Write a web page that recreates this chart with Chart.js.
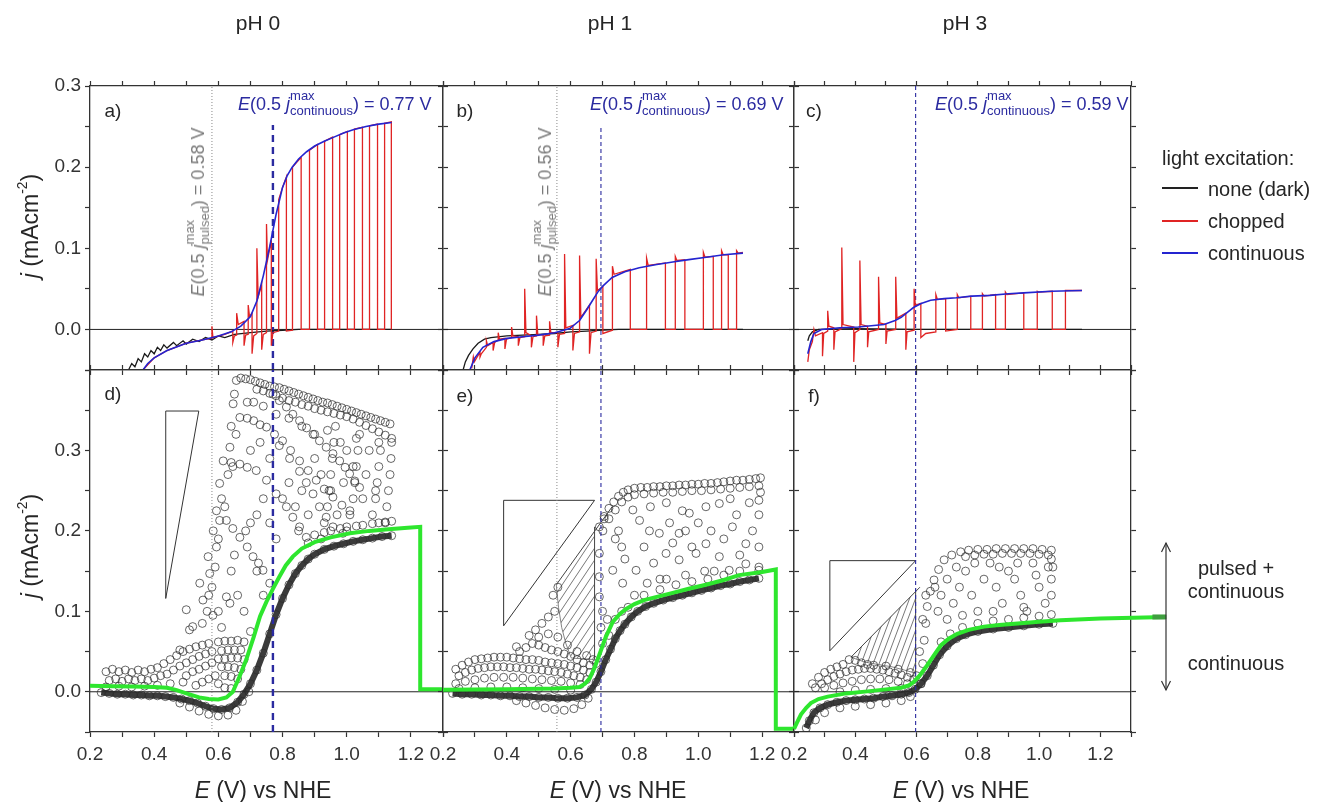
<!DOCTYPE html>
<html><head><meta charset="utf-8">
<script src="https://cdn.jsdelivr.net/npm/chart.js@4.4.1/dist/chart.umd.min.js"></script>
<style>
body{margin:0;background:#fff;font-family:"Liberation Sans",Arial,sans-serif;color:#262626}
#wrap{position:relative;width:1337px;height:802px;overflow:hidden;background:#fff}
canvas{position:absolute;left:0;top:0}
.t{position:absolute;white-space:nowrap;line-height:1}
.c{transform:translate(-50%,-50%)}
.rot{transform:translate(-50%,-50%) rotate(-90deg)}
.ss{display:inline-block;font-size:13px;line-height:15px;vertical-align:-5px;text-align:left}
.ss span{display:block}
.sup2{font-size:0.6em;vertical-align:0.75em}
.lg{position:absolute;height:2px;width:36px;left:1162px}
</style></head><body><div id="wrap">
<canvas id="ca" width="1337" height="802"></canvas>
<canvas id="cb" width="1337" height="802"></canvas>
<canvas id="cc" width="1337" height="802"></canvas>
<canvas id="cd" width="1337" height="802"></canvas>
<canvas id="ce" width="1337" height="802"></canvas>
<canvas id="cf" width="1337" height="802"></canvas>

<div class="t c" style="left:258px;top:22px;font-size:21px">pH 0</div>
<div class="t c" style="left:610px;top:22px;font-size:21px">pH 1</div>
<div class="t c" style="left:965px;top:22px;font-size:21px">pH 3</div>

<div class="t rot" style="left:29px;top:226px;font-size:23px"><i>j</i> (mAcm<span class="sup2">-2</span>)</div>
<div class="t rot" style="left:29px;top:546px;font-size:23px"><i>j</i> (mAcm<span class="sup2">-2</span>)</div>

<div class="t c" style="left:263px;top:790px;font-size:23px"><i>E</i> (V) vs NHE</div>
<div class="t c" style="left:618px;top:790px;font-size:23px"><i>E</i> (V) vs NHE</div>
<div class="t c" style="left:961px;top:790px;font-size:23px"><i>E</i> (V) vs NHE</div>

<div class="t c" style="left:113px;top:110px;font-size:19px">a)</div>
<div class="t c" style="left:465px;top:110px;font-size:19px">b)</div>
<div class="t c" style="left:814px;top:110px;font-size:19px">c)</div>
<div class="t c" style="left:113px;top:393px;font-size:19px">d)</div>
<div class="t c" style="left:465px;top:395px;font-size:19px">e)</div>
<div class="t c" style="left:814px;top:395px;font-size:19px">f)</div>

<div class="t" style="left:238px;top:88px;font-size:18px;color:#2b2ba0"><i>E</i>(0.5 <i>j</i><span class="ss"><span>max</span><span>continuous</span></span>) = 0.77 V</div>
<div class="t" style="left:590px;top:88px;font-size:18px;color:#2b2ba0"><i>E</i>(0.5 <i>j</i><span class="ss"><span>max</span><span>continuous</span></span>) = 0.69 V</div>
<div class="t" style="left:935px;top:88px;font-size:18px;color:#2b2ba0"><i>E</i>(0.5 <i>j</i><span class="ss"><span>max</span><span>continuous</span></span>) = 0.59 V</div>

<div class="t rot" style="left:197px;top:212px;font-size:18px;color:#7a7a7a"><i>E</i>(0.5 <i>j</i><span class="ss"><span>max</span><span>pulsed</span></span>) = 0.58 V</div>
<div class="t rot" style="left:544px;top:212px;font-size:18px;color:#7a7a7a"><i>E</i>(0.5 <i>j</i><span class="ss"><span>max</span><span>pulsed</span></span>) = 0.56 V</div>

<div class="t" style="left:1162px;top:148px;font-size:20px">light excitation:</div>
<div class="lg" style="top:187px;background:#222"></div>
<div class="lg" style="top:220px;background:#e02424"></div>
<div class="lg" style="top:252px;background:#2424d0"></div>
<div class="t" style="left:1208px;top:179px;font-size:20px">none (dark)</div>
<div class="t" style="left:1208px;top:211px;font-size:20px">chopped</div>
<div class="t" style="left:1208px;top:243px;font-size:20px">continuous</div>

<svg style="position:absolute;left:1150px;top:535px" width="32" height="165">
<line x1="16" y1="8" x2="16" y2="155" stroke="#333" stroke-width="1.2"/>
<polyline points="11.5,17 16,8 20.5,17" fill="none" stroke="#333" stroke-width="1.2"/>
<polyline points="11.5,146 16,155 20.5,146" fill="none" stroke="#333" stroke-width="1.2"/>
</svg>
<div class="t c" style="left:1236px;top:568px;font-size:20px">pulsed +</div>
<div class="t c" style="left:1236px;top:591px;font-size:20px">continuous</div>
<div class="t c" style="left:1236px;top:663px;font-size:20px">continuous</div>
</div>
<script>
// ---------------- data (E in V vs NHE, j in mA cm^-2) ----------------
const X_MIN = 0.2, X_MAX = 1.3;
const TOP_Y = [-0.05, 0.3], BOT_Y = [-0.05, 0.4];

// pH 0 (panel a)
const dark_pH0 = [[0.32,-0.05],[0.33,-0.042],[0.34,-0.046],[0.35,-0.036],[0.36,-0.04],[0.37,-0.03],[0.38,-0.034],[0.39,-0.026],[0.40,-0.03],[0.41,-0.022],[0.42,-0.026],[0.43,-0.019],[0.44,-0.023],[0.46,-0.016],[0.47,-0.02],[0.49,-0.014],[0.50,-0.018],[0.52,-0.012],[0.54,-0.015],[0.56,-0.01],[0.58,-0.013],[0.60,-0.008],[0.62,-0.01],[0.65,-0.006],[0.70,-0.004],[0.75,-0.002],[0.80,-0.001],[0.85,0],[1.14,0]];
const cont_pH0 = [[0.365,-0.05],[0.38,-0.042],[0.40,-0.035],[0.44,-0.026],[0.50,-0.017],[0.55,-0.013],[0.60,-0.008],[0.64,-0.003],[0.67,0.004],[0.70,0.016],[0.72,0.035],[0.74,0.066],[0.76,0.102],[0.78,0.142],[0.80,0.175],[0.815,0.19],[0.83,0.2],[0.85,0.21],[0.875,0.219],[0.90,0.226],[0.93,0.232],[0.96,0.237],[0.99,0.242],[1.02,0.246],[1.06,0.25],[1.10,0.253],[1.14,0.255]];
const chop_pH0 = [[0.365,-0.05],[0.40,-0.035],[0.44,-0.026],[0.50,-0.017],[0.55,-0.013],[0.578,-0.011],[0.58,0.004],[0.583,-0.01],[0.62,-0.006],[0.645,-0.002],
 [0.645,-0.016],[0.65,-0.008],[0.657,-0.007],[0.657,0.02],[0.662,0.006],[0.68,0.01],
 [0.68,-0.02],[0.685,-0.007],[0.693,-0.006],[0.693,0.03],[0.697,0.016],[0.705,0.02],
 [0.705,-0.03],[0.71,-0.008],[0.72,-0.005],[0.72,0.1],[0.724,0.04],[0.735,0.055],
 [0.735,-0.025],[0.74,-0.006],[0.75,-0.004],[0.75,0.13],[0.753,0.085],[0.765,0.11],
 [0.765,-0.02],[0.77,-0.004],[0.788,-0.002],[0.788,0.16],[0.80,0.175],[0.812,0.188],
 [0.812,-0.002],[0.831,-0.001],[0.831,0.2],[0.858,0.212],
 [0.858,0],[0.884,0],[0.884,0.221],[0.909,0.228],
 [0.909,0],[0.931,0],[0.931,0.232],[0.956,0.237],
 [0.956,0],[0.978,0],[0.978,0.24],[1.002,0.244],
 [1.002,0],[1.024,0],[1.024,0.247],[1.049,0.249],
 [1.049,0],[1.071,0],[1.071,0.251],[1.096,0.253],
 [1.096,0],[1.118,0],[1.118,0.254],[1.139,0.256],[1.139,0]];

// pH 1 (panel b)
const dark_pH1 = [[0.263,-0.05],[0.27,-0.04],[0.28,-0.032],[0.294,-0.024],[0.31,-0.017],[0.33,-0.012],[0.35,-0.01],[0.40,-0.008],[0.45,-0.007],[0.50,-0.006],[0.55,-0.005],[0.60,-0.003],[0.65,-0.002],[0.69,-0.001],[0.75,0],[1.14,0]];
const cont_pH1 = [[0.284,-0.05],[0.30,-0.035],[0.325,-0.022],[0.36,-0.015],[0.40,-0.011],[0.45,-0.009],[0.50,-0.007],[0.55,-0.004],[0.597,0.001],[0.628,0.011],[0.65,0.024],[0.669,0.036],[0.685,0.046],[0.70,0.053],[0.73,0.064],[0.77,0.071],[0.815,0.076],[0.87,0.08],[0.92,0.083],[0.97,0.086],[1.025,0.089],[1.08,0.092],[1.14,0.094]];
const chop_pH1 = [[0.29,-0.048],[0.295,-0.034],[0.298,-0.04],[0.316,-0.028],[0.316,-0.034],[0.32,-0.03],[0.336,-0.022],[0.336,-0.014],[0.34,-0.02],[0.357,-0.016],
 [0.357,-0.026],[0.362,-0.016],[0.373,-0.013],[0.373,-0.004],[0.377,-0.012],[0.394,-0.011],[0.394,-0.024],[0.399,-0.012],[0.415,-0.01],[0.415,0.003],[0.419,-0.008],[0.436,-0.009],
 [0.436,-0.02],[0.441,-0.01],[0.456,-0.009],[0.456,0.05],[0.46,-0.004],[0.477,-0.008],[0.477,-0.022],[0.482,-0.009],[0.493,-0.008],[0.493,0.017],[0.497,-0.006],[0.514,-0.007],
 [0.514,-0.02],[0.519,-0.008],[0.534,-0.007],[0.534,0.01],[0.538,-0.004],[0.56,-0.004],[0.56,-0.022],[0.565,-0.006],[0.581,-0.005],[0.581,0.093],[0.585,0.002],[0.607,0.005],
 [0.607,-0.026],[0.612,-0.005],[0.628,-0.003],[0.628,0.091],[0.632,0.015],[0.659,0.03],[0.659,-0.03],[0.664,-0.004],[0.68,-0.002],[0.68,0.087],[0.684,0.048],[0.701,0.053],
 [0.701,-0.005],[0.731,-0.001],[0.731,0.078],[0.736,0.068],[0.787,0.074],
 [0.787,0],[0.838,0],[0.838,0.088],[0.843,0.079],[0.897,0.082],
 [0.897,0],[0.928,0],[0.928,0.09],[0.933,0.085],[0.958,0.086],
 [0.958,0],[1.016,0],[1.016,0.095],[1.021,0.089],[1.047,0.09],
 [1.047,0],[1.073,0],[1.073,0.097],[1.078,0.092],[1.094,0.092],
 [1.094,0],[1.12,0],[1.12,0.097],[1.125,0.094],[1.14,0.095]];

// pH 3 (panel c)
const dark_pH3 = [[0.245,-0.014],[0.25,-0.008],[0.26,-0.003],[0.28,0],[0.40,0.001],[0.60,0],[1.14,0]];
const cont_pH3 = [[0.245,-0.03],[0.255,-0.015],[0.265,-0.005],[0.29,0],[0.35,0.002],[0.41,0.003],[0.494,0.006],[0.53,0.011],[0.55,0.015],[0.57,0.021],[0.59,0.027],[0.615,0.032],[0.646,0.036],[0.69,0.038],[0.73,0.039],[0.78,0.041],[0.84,0.042],[0.90,0.044],[0.95,0.045],[1.04,0.047],[1.14,0.048]];
const chop_pH3 = [[0.245,-0.04],[0.25,-0.025],[0.26,-0.015],[0.265,0],[0.27,-0.008],[0.293,-0.004],[0.293,-0.033],[0.297,-0.005],[0.31,-0.002],[0.31,0.023],[0.314,0.004],[0.33,0.002],
 [0.33,-0.025],[0.334,-0.003],[0.356,0.001],[0.356,0.101],[0.36,0.006],[0.395,0.003],[0.395,-0.04],[0.399,-0.004],[0.415,0],[0.415,0.085],[0.419,0.006],[0.44,0.004],
 [0.44,-0.022],[0.444,-0.003],[0.476,0],[0.476,0.065],[0.48,0.008],[0.50,0.006],[0.50,-0.018],[0.504,-0.002],[0.532,0],[0.532,0.065],[0.536,0.014],[0.565,0.02],
 [0.565,-0.025],[0.569,-0.003],[0.592,-0.001],[0.592,0.05],[0.596,0.03],[0.614,0.032],
 [0.614,-0.01],[0.63,-0.005],[0.663,-0.003],[0.663,0.043],[0.668,0.037],[0.695,0.038],
 [0.695,-0.002],[0.733,0],[0.733,0.043],[0.738,0.039],[0.777,0.041],
 [0.777,0],[0.815,0],[0.815,0.044],[0.82,0.041],[0.858,0.043],
 [0.858,0],[0.89,0],[0.89,0.046],[0.895,0.043],[0.95,0.045],
 [0.95,0],[0.994,0],[0.994,0.047],[0.999,0.046],[1.043,0.047],
 [1.043,0],[1.086,0],[1.086,0.048],[1.14,0.048]];

// half-current potentials (vertical guide lines)
const E_pulsed = {pH0:0.58, pH1:0.557};
const E_cont = {pH0:0.77, pH1:0.695, pH3:0.597};
const jTopCont = {pH0:0.252, pH1:0.25, pH3:0.3};

// transient (pulsed) data, panels d-f
const band_pH0 = [[0.235,-0.001],[0.26,-0.002],[0.285,-0.003],[0.31,-0.003],[0.335,-0.004],[0.36,-0.004],[0.385,-0.005],[0.41,-0.005],[0.435,-0.006],[0.46,-0.007],[0.485,-0.009],[0.51,-0.011],[0.535,-0.014],[0.56,-0.018],[0.585,-0.021],[0.61,-0.022],[0.635,-0.02],[0.66,-0.013],[0.68,-0.003],[0.70,0.01],[0.72,0.027],[0.74,0.048],[0.76,0.072],[0.78,0.096],[0.80,0.116],[0.82,0.133],[0.84,0.147],[0.86,0.157],[0.88,0.165],[0.90,0.171],[0.93,0.177],[0.96,0.181],[0.99,0.184],[1.02,0.187],[1.05,0.189],[1.08,0.191],[1.11,0.193],[1.14,0.194]];
const band2_pH0 = [[0.48,-0.014],[0.51,-0.019],[0.54,-0.024],[0.57,-0.028],[0.60,-0.03],[0.63,-0.029],[0.655,-0.023],[0.675,-0.012],[0.695,0]];
const cloud_pH0 = [
 [0.25,0.025],[0.27,0.028],[0.29,0.025],[0.31,0.027],[0.33,0.024],[0.35,0.027],[0.37,0.025],[0.39,0.028],[0.41,0.03],
 [0.26,0.014],[0.28,0.016],[0.30,0.013],[0.32,0.016],[0.34,0.014],[0.36,0.016],[0.38,0.014],[0.40,0.017],[0.42,0.02],[0.44,0.022],
 [0.25,0.006],[0.29,0.007],[0.33,0.006],[0.37,0.007],[0.41,0.008],[0.45,0.01],[0.49,0.012],
 [0.43,0.035],[0.45,0.04],[0.47,0.045],[0.49,0.05],[0.51,0.053],[0.53,0.056],[0.55,0.058],[0.57,0.06],
 [0.46,0.027],[0.48,0.032],[0.50,0.036],[0.52,0.04],[0.54,0.044],[0.56,0.047],[0.58,0.05],
 [0.50,0.02],[0.52,0.025],[0.54,0.028],[0.56,0.032],[0.58,0.036],[0.53,0.008],[0.55,0.012],[0.57,0.016],[0.59,0.02],
 [0.60,0.062],[0.62,0.063],[0.64,0.063],[0.66,0.064],[0.68,0.062],[0.61,0.051],[0.63,0.052],[0.65,0.052],[0.67,0.052],
 [0.60,0.041],[0.62,0.041],[0.64,0.042],[0.66,0.042],[0.68,0.04],[0.61,0.031],[0.63,0.031],[0.65,0.03],[0.67,0.028],
 [0.60,0.01],[0.62,0.02],[0.64,0.019],[0.66,0.016],[0.62,0.005],[0.64,0.004],
 [0.48,0.052],[0.51,0.077],[0.50,0.102],[0.542,0.135],[0.568,0.168],[0.584,0.2],[0.594,0.225],[0.604,0.259],[0.636,0.304],[0.646,0.358],[0.656,0.387],
 [0.52,0.081],[0.552,0.114],[0.573,0.147],[0.594,0.18],[0.604,0.213],[0.61,0.24],[0.583,0.095],[0.625,0.118],[0.636,0.11],[0.58,0.13],[0.59,0.155],
 [0.55,0.085],[0.565,0.1],[0.57,0.12],[0.60,0.19],[0.62,0.23],[0.63,0.27],[0.64,0.33],[0.65,0.37],[0.60,0.1],[0.61,0.08],[0.645,0.28],[0.655,0.32],
 [0.67,0.39],[0.685,0.389],[0.70,0.388],[0.715,0.386],[0.73,0.384],[0.745,0.382],[0.76,0.38],[0.775,0.379],[0.79,0.378],[0.805,0.376],[0.82,0.374],[0.835,0.372],[0.85,0.37],[0.865,0.368],[0.88,0.366],[0.895,0.364],[0.91,0.362],[0.925,0.36],[0.94,0.359],[0.955,0.357],[0.97,0.355],[0.985,0.353],[1.0,0.351],[1.015,0.349],[1.03,0.347],[1.045,0.345],[1.06,0.343],[1.075,0.341],[1.09,0.339],[1.105,0.337],[1.12,0.335],[1.135,0.333],
 [0.72,0.376],[0.74,0.374],[0.76,0.371],[0.78,0.368],[0.80,0.365],[0.82,0.362],[0.84,0.36],[0.86,0.357],[0.88,0.355],[0.90,0.352],[0.92,0.35],[0.94,0.348],[0.96,0.346],[0.98,0.344],[1.0,0.342],[1.02,0.339],[1.04,0.335],[1.06,0.331],[1.08,0.327],[1.10,0.323],[1.12,0.319],[1.14,0.315],
 [0.667,0.341],[0.69,0.34],[0.71,0.337],[0.73,0.332],[0.75,0.329],[0.775,0.32],[0.80,0.312],[0.825,0.3],[0.853,0.287],[0.88,0.275],[0.905,0.263],[0.93,0.252],[0.957,0.242],[0.985,0.232],[1.01,0.225],
 [0.77,0.37],[0.79,0.362],[0.812,0.354],[0.832,0.345],[0.853,0.337],[0.875,0.328],[0.895,0.32],[0.915,0.312],[0.936,0.304],[0.957,0.296],[0.978,0.287],[0.995,0.279],[1.009,0.271],[1.025,0.262],[1.04,0.254],
 [0.79,0.306],[0.822,0.29],[0.853,0.274],[0.874,0.26],[0.895,0.246],[0.915,0.23],[0.936,0.217],[0.957,0.205],[0.988,0.197],
 [0.615,0.287],[0.64,0.285],[0.667,0.283],[0.69,0.279],[0.718,0.275],[0.75,0.263],[0.78,0.246],[0.812,0.23],[0.832,0.217],[0.853,0.205],[0.874,0.192],
 [0.625,0.213],[0.645,0.203],[0.667,0.192],[0.69,0.18],[0.708,0.168],[0.725,0.16],[0.739,0.151],[0.76,0.135],
 [0.72,0.22],[0.74,0.24],[0.76,0.21],[0.78,0.19],[0.80,0.24],[0.82,0.26],[0.84,0.23],[0.86,0.25],[0.88,0.22],[0.90,0.29],[0.92,0.27],[0.95,0.25],[0.97,0.22],[0.99,0.26],[1.0,0.3],[1.02,0.28],[1.05,0.24],[1.06,0.27],[1.07,0.3],[1.09,0.25],[0.70,0.3],[0.73,0.31],[0.76,0.29],[0.69,0.36],[0.71,0.36],[0.74,0.355],[0.78,0.345],[0.82,0.34],[0.86,0.33],[0.90,0.32],[0.94,0.325],[0.98,0.31],[1.03,0.315],[1.10,0.31],[0.85,0.2],[0.88,0.185],
 [1.12,0.21],[1.125,0.23],[1.13,0.25],[1.135,0.27],[1.138,0.29],[1.14,0.31],[1.08,0.22],[1.09,0.24],[1.095,0.26],[1.10,0.28],[1.105,0.3],[1.0,0.2],[1.01,0.22],[1.02,0.24],[1.025,0.26],[1.03,0.28],[1.035,0.3],[1.04,0.32],[0.92,0.19],[0.93,0.21],[0.94,0.23],[0.945,0.25],[0.95,0.27],[0.955,0.29],[0.96,0.31],[0.965,0.33],
 [0.90,0.195],[0.95,0.2],[1.0,0.205],[1.05,0.207],[1.10,0.21],[1.14,0.212],[0.93,0.198],[0.98,0.203],[1.03,0.206],[1.08,0.209],[1.12,0.211],
 [0.66,0.12],[0.68,0.1],[0.70,0.075],[0.64,0.15],[0.65,0.17],[0.685,0.2],[0.70,0.21],[0.72,0.15],[0.74,0.12]];

const band_pH1 = [[0.23,-0.002],[0.26,-0.003],[0.29,-0.003],[0.32,-0.004],[0.35,-0.004],[0.38,-0.005],[0.41,-0.005],[0.44,-0.006],[0.47,-0.006],[0.50,-0.007],[0.53,-0.007],[0.56,-0.008],[0.59,-0.008],[0.62,-0.007],[0.645,-0.004],[0.665,0.003],[0.68,0.012],[0.695,0.025],[0.71,0.04],[0.725,0.053],[0.74,0.066],[0.755,0.076],[0.77,0.084],[0.79,0.093],[0.81,0.1],[0.835,0.106],[0.86,0.11],[0.89,0.114],[0.92,0.117],[0.95,0.12],[0.98,0.123],[1.01,0.126],[1.04,0.129],[1.07,0.132],[1.10,0.134],[1.13,0.137],[1.16,0.139],[1.19,0.141]];
const band2_pH1 = [[0.43,-0.011],[0.46,-0.014],[0.49,-0.017],[0.52,-0.02],[0.55,-0.022],[0.58,-0.023],[0.61,-0.021],[0.635,-0.016],[0.655,-0.008]];
const cloud_pH1 = [
 [0.24,0.028],[0.26,0.033],[0.28,0.037],[0.30,0.04],[0.32,0.041],[0.34,0.042],[0.36,0.043],[0.38,0.043],[0.40,0.043],[0.42,0.042],[0.44,0.041],[0.46,0.04],[0.48,0.04],[0.50,0.039],[0.52,0.037],[0.54,0.036],[0.56,0.035],[0.58,0.034],[0.60,0.032],[0.62,0.03],[0.64,0.027],[0.66,0.024],
 [0.25,0.02],[0.27,0.024],[0.29,0.027],[0.31,0.029],[0.33,0.03],[0.35,0.031],[0.37,0.031],[0.39,0.031],[0.41,0.03],[0.43,0.03],[0.45,0.029],[0.47,0.028],[0.49,0.028],[0.51,0.027],[0.53,0.026],[0.55,0.025],[0.57,0.024],[0.59,0.022],[0.61,0.02],[0.63,0.018],[0.65,0.015],
 [0.24,0.01],[0.27,0.013],[0.30,0.015],[0.33,0.017],[0.36,0.018],[0.39,0.018],[0.42,0.018],[0.45,0.017],[0.48,0.016],[0.51,0.015],[0.54,0.014],[0.57,0.013],[0.60,0.011],[0.63,0.009],
 [0.25,0.004],[0.30,0.005],[0.35,0.006],[0.40,0.006],[0.45,0.005],[0.50,0.004],[0.55,0.003],[0.60,0.002],
 [0.44,0.05],[0.46,0.055],[0.48,0.06],[0.50,0.058],[0.52,0.055],[0.54,0.052],[0.56,0.05],[0.58,0.047],[0.60,0.044],[0.62,0.04],[0.64,0.036],[0.66,0.033],[0.47,0.07],[0.49,0.077],[0.51,0.085],[0.53,0.093],[0.55,0.1],[0.545,0.12],[0.56,0.13],[0.43,0.056],[0.50,0.068],[0.53,0.072],[0.56,0.068],[0.59,0.058],[0.62,0.05],[0.65,0.045],[0.67,0.04],[0.68,0.035],
 [0.69,0.118],[0.69,0.143],[0.69,0.172],[0.701,0.2],[0.705,0.215],[0.69,0.205],[0.70,0.1],[0.695,0.08],[0.70,0.06],[0.72,0.07],[0.715,0.09],
 [0.705,0.218],[0.72,0.228],[0.735,0.236],[0.75,0.243],[0.765,0.248],[0.78,0.251],[0.80,0.253],[0.82,0.254],[0.84,0.254],[0.86,0.255],[0.88,0.255],[0.90,0.256],[0.92,0.256],[0.94,0.257],[0.96,0.257],[0.98,0.258],[1.0,0.258],[1.02,0.259],[1.04,0.259],[1.06,0.26],[1.08,0.261],[1.10,0.262],[1.12,0.263],[1.14,0.263],[1.16,0.264],[1.18,0.265],[1.195,0.266],
 [0.72,0.215],[0.74,0.226],[0.76,0.236],[0.78,0.242],[0.80,0.245],[0.83,0.246],[0.86,0.247],[0.89,0.248],[0.92,0.248],[0.95,0.249],[0.98,0.25],[1.01,0.25],[1.04,0.251],[1.07,0.252],[1.10,0.253],[1.13,0.254],[1.16,0.255],[1.19,0.256],[1.195,0.248],[1.19,0.238],
 [0.795,0.226],[0.816,0.213],[0.847,0.2],[0.878,0.197],[0.94,0.197],[0.972,0.222],[1.024,0.23],[1.066,0.234],[1.107,0.205],[1.149,0.184],[1.19,0.18],[0.732,0.151],[0.763,0.135],[0.805,0.151],[0.899,0.172],[0.94,0.164],[0.993,0.172],[1.024,0.184],[1.066,0.168],[1.097,0.151],[1.149,0.159],[1.19,0.151],
 [0.75,0.2],[0.76,0.18],[0.77,0.165],[0.74,0.19],[0.83,0.18],[0.86,0.16],[0.88,0.14],[0.91,0.21],[0.92,0.185],[0.96,0.2],[0.98,0.18],[1.0,0.21],[1.04,0.2],[1.05,0.15],[1.08,0.19],[1.12,0.22],[1.13,0.17],[1.17,0.2],[1.19,0.22],[1.16,0.235],[0.85,0.23],[0.90,0.235],[0.95,0.225],[1.10,0.24],[0.80,0.12],[0.84,0.135],[0.90,0.14],[0.96,0.145],[1.02,0.15],
 [0.78,0.105],[0.83,0.12],[0.88,0.127],[0.93,0.133],[0.98,0.137],[1.03,0.14],[1.08,0.145],[1.13,0.15],[1.19,0.155],[0.74,0.09],[0.76,0.1]];

const band_pH3 = [[0.24,-0.045],[0.25,-0.036],[0.265,-0.026],[0.285,-0.02],[0.31,-0.016],[0.34,-0.013],[0.37,-0.011],[0.40,-0.01],[0.43,-0.009],[0.46,-0.008],[0.49,-0.006],[0.52,-0.005],[0.55,-0.003],[0.575,-0.001],[0.595,0.003],[0.615,0.01],[0.635,0.02],[0.655,0.033],[0.675,0.046],[0.70,0.057],[0.73,0.066],[0.76,0.071],[0.80,0.075],[0.85,0.078],[0.90,0.08],[0.95,0.082],[1.0,0.084],[1.045,0.085]];
const band2_pH3 = [[0.27,-0.035],[0.30,-0.026],[0.35,-0.02],[0.40,-0.018],[0.45,-0.016],[0.50,-0.014],[0.55,-0.011],[0.58,-0.006]];
const cloud_pH3 = [
 [0.26,0.01],[0.28,0.018],[0.30,0.024],[0.32,0.028],[0.34,0.031],[0.36,0.034],[0.38,0.04],[0.27,0.005],[0.29,0.01],[0.31,0.015],[0.33,0.019],[0.35,0.022],[0.37,0.025],[0.39,0.027],[0.41,0.028],[0.43,0.029],[0.45,0.029],[0.47,0.028],[0.49,0.027],[0.51,0.025],[0.53,0.023],[0.55,0.021],[0.57,0.018],[0.59,0.015],
 [0.30,0.005],[0.33,0.008],[0.36,0.011],[0.39,0.013],[0.42,0.015],[0.45,0.016],[0.48,0.016],[0.51,0.015],[0.54,0.013],[0.57,0.01],[0.35,0],[0.40,0.002],[0.45,0.003],[0.50,0.004],[0.55,0.004],[0.42,0.036],[0.44,0.034],[0.40,0.039],[0.46,0.033],[0.50,0.032],[0.54,0.028],[0.58,0.024],
 [0.614,0.01],[0.62,0.035],[0.625,0.064],[0.63,0.085],[0.635,0.106],[0.645,0.125],[0.657,0.139],[0.672,0.152],[0.69,0.164],[0.715,0.17],[0.744,0.174],[0.60,0.02],[0.61,0.05],[0.62,0.09],[0.63,0.12],
 [0.77,0.176],[0.80,0.177],[0.83,0.177],[0.86,0.178],[0.89,0.178],[0.92,0.178],[0.95,0.178],[0.98,0.178],[1.01,0.177],[1.04,0.176],[0.76,0.168],[0.79,0.17],[0.82,0.171],[0.85,0.171],[0.88,0.172],[0.91,0.172],[0.94,0.172],[0.97,0.172],[1.0,0.171],[1.03,0.17],[1.04,0.165],[1.045,0.155],
 [0.66,0.13],[0.68,0.12],[0.70,0.14],[0.72,0.11],[0.74,0.13],[0.76,0.15],[0.78,0.12],[0.80,0.1],[0.82,0.14],[0.84,0.16],[0.86,0.13],[0.88,0.11],[0.90,0.15],[0.92,0.14],[0.94,0.12],[0.96,0.1],[0.98,0.16],[1.0,0.13],[1.02,0.11],[1.04,0.14],[0.70,0.09],[0.75,0.095],[0.85,0.1],[0.95,0.105],[1.04,0.12],[0.67,0.1],[0.73,0.155],[0.79,0.16],[0.87,0.155],[0.93,0.16],[0.99,0.145],[1.03,0.155],
 [0.68,0.062],[0.71,0.072],[0.75,0.08],[0.80,0.085],[0.85,0.088],[0.90,0.09],[0.95,0.092],[1.0,0.094],[1.04,0.096]];

// continuous-illumination trace (green), drawn across panels d-f
const green_pH0 = [[0.2,0.0074],[0.27,0.007],[0.334,0.0066],[0.40,0.006],[0.44,0.005],[0.47,0.002],[0.50,-0.002],[0.54,-0.007],[0.57,-0.009],[0.60,-0.0095],[0.625,-0.007],[0.645,0],[0.665,0.018],[0.687,0.04],[0.71,0.068],[0.73,0.094],[0.75,0.112],[0.77,0.128],[0.79,0.143],[0.81,0.157],[0.832,0.168],[0.86,0.178],[0.90,0.186],[0.95,0.192],[1.01,0.197],[1.07,0.2],[1.13,0.202],[1.19,0.204],[1.229,0.205],[1.229,0.003],[1.3,0.003]];
const green_pH1 = [[0.2,0.0025],[0.40,0.003],[0.55,0.004],[0.60,0.005],[0.628,0.006],[0.645,0.01],[0.66,0.017],[0.675,0.03],[0.69,0.046],[0.71,0.068],[0.732,0.087],[0.755,0.097],[0.774,0.103],[0.80,0.109],[0.83,0.114],[0.87,0.118],[0.92,0.123],[0.97,0.128],[1.024,0.133],[1.08,0.139],[1.128,0.145],[1.20,0.149],[1.243,0.152],[1.243,-0.046],[1.3,-0.046]];
const green_pH3 = [[0.2,-0.046],[0.21,-0.038],[0.223,-0.028],[0.24,-0.02],[0.255,-0.014],[0.28,-0.009],[0.31,-0.006],[0.37,-0.002],[0.44,0.0005],[0.50,0.003],[0.55,0.005],[0.575,0.008],[0.59,0.012],[0.61,0.02],[0.635,0.033],[0.66,0.047],[0.68,0.058],[0.705,0.066],[0.733,0.072],[0.77,0.077],[0.82,0.081],[0.87,0.083],[0.93,0.085],[1.0,0.087],[1.07,0.089],[1.2,0.091],[1.415,0.093]];
const greenEnd_pH3 = [[1.37,0.093],[1.415,0.093]];

// schematic pulse shapes and hatched areas
const tri_pH0 = [[0.436,0.349],[0.539,0.349],[0.436,0.116],[0.436,0.349]];
const tri_pH1 = [[0.39,0.238],[0.675,0.238],[0.39,0.082],[0.39,0.238]];
const tri_pH3 = [[0.317,0.163],[0.597,0.163],[0.317,0.051],[0.317,0.163]];
const hatchTop_pH1 = [[0.555,0.133],[0.675,0.2]];
const hatchBot_pH1 = [[0.555,0.133],[0.562,0.105],[0.572,0.08],[0.585,0.06],[0.602,0.042],[0.675,0.04]];
const hatchDiag_pH1 = [[0.555,0.133],[0.73,0.23]];
const hatchSide_pH1 = [[0.675,0.04],[0.675,0.205]];
const hatchTop_pH3 = [[0.386,0.043],[0.597,0.125]];
const hatchBot_pH3 = [[0.386,0.043],[0.43,0.037],[0.473,0.034],[0.52,0.031],[0.56,0.027],[0.597,0.023]];
const hatchDiag_pH3 = [[0.386,0.043],[0.611,0.13]];
const hatchSide_pH3 = [[0.597,0.023],[0.597,0.128]];

// ---------------- layout / styles ----------------
const W = 1337, H = 802;
const BOX = {
  a:{l:90,r:443,t:86,b:370}, b:{l:443,r:794,t:86,b:370}, c:{l:794,r:1131,t:86,b:370},
  d:{l:90,r:443,t:370,b:732}, e:{l:443,r:794,t:370,b:732}, f:{l:794,r:1131,t:370,b:732}
};
const FONT = '"Liberation Sans", Arial, sans-serif';
const COL = {dark:'#1a1a1a', chop:'#e02424', cont:'#2424d0', green:'#2ee62e', greenEnd:'#3f9f3f', ref:'#2b2ba0', gray:'#8a8a8a', circ:'rgba(45,45,45,0.72)', band:'rgba(38,38,38,0.9)'};

const P = a => a.map(([x,y]) => ({x, y}));
function line(data, color, width, dash, extra) {
  return Object.assign({data:P(data), showLine:true, borderColor:color, borderWidth:width, borderDash:dash||[], pointRadius:0, fill:false, tension:0}, extra||{});
}
function circles(data, color) {
  return {data:P(data), showLine:false, pointRadius:4, pointBorderColor:color, pointBackgroundColor:'rgba(0,0,0,0)', pointBorderWidth:1};
}
function vline(E, y0, y1, color, width, dash) { return line([[E,y0],[E,y1]], color, width, dash); }
function hatchPattern(w, h) {
  const c = document.createElement('canvas'); c.width = w; c.height = h;
  const g = c.getContext('2d'); g.strokeStyle = '#555'; g.lineWidth = 0.8;
  for (let k = -1; k <= 1; k++) { g.beginPath(); g.moveTo(k*w - w, 2*h); g.lineTo(k*w + 2*w, -h); g.stroke(); }
  return g.createPattern(c, 'repeat');
}
const fmt = v => (Math.abs(v) < 1e-9 ? 0 : v).toFixed(1);

function mkChart(id, box, yr, showX, showY, datasets) {
  const tickFont = {family:FONT, size:19};
  const sizes = {bottom:H-box.b, top:box.t, left:box.l, right:W-box.r};
  const ax = (pos, min, max, step, cb) => ({
    type:'linear', position:pos, min, max,
    afterFit: s => { if (s.isHorizontal()) s.height = sizes[pos]; else s.width = sizes[pos]; },
    border:{display:true, color:'#333', width:1.3},
    grid:{display:true, drawOnChartArea:false, drawTicks:true, tickLength:5, tickColor:'#333', tickWidth:1.2},
    ticks:{stepSize:step, autoSkip:false, maxRotation:0, minRotation:0, padding:(pos==='left'?4:6), color:'#333', font:tickFont, callback:cb}
  });
  const xcb = v => (showX && Math.round(v*10) % 2 === 0 && v < 1.25) ? fmt(v) : '';
  const ycb = v => (showY && Math.round(v*100) % 10 === 0 && v > -0.01 && v < 0.31) ? fmt(v) : '';
  return new Chart(document.getElementById(id), {
    type:'line',
    data:{datasets},
    options:{
      responsive:false, animation:false, events:[], devicePixelRatio:1,
      layout:{padding:0},
      plugins:{legend:{display:false}, tooltip:{enabled:false}},
      scales:{
        x: ax('bottom', X_MIN, X_MAX, 0.1, xcb),
        x2: ax('top', X_MIN, X_MAX, 0.1, () => ''),
        y: ax('left', yr[0], yr[1], 0.05, ycb),
        y2: ax('right', yr[0], yr[1], 0.05, () => '')
      }
    }
  });
}
const zero = () => line([[X_MIN,0],[X_MAX,0]], '#222', 1);
const bandStyle = {pointRadius:4, pointBorderColor:COL.circ, pointBackgroundColor:'rgba(0,0,0,0)', pointBorderWidth:1};

// top row
mkChart('ca', BOX.a, TOP_Y, false, true, [
  line(cont_pH0, COL.cont, 1.6), line(chop_pH0, COL.chop, 1.3), line(dark_pH0, COL.dark, 1.3),
  vline(E_cont.pH0, TOP_Y[0], jTopCont.pH0, COL.ref, 2.4, [7,5]), vline(E_pulsed.pH0, TOP_Y[0], TOP_Y[1], COL.gray, 1, [1,2]), zero()]);
mkChart('cb', BOX.b, TOP_Y, false, false, [
  line(cont_pH1, COL.cont, 1.6), line(chop_pH1, COL.chop, 1.3), line(dark_pH1, COL.dark, 1.3),
  vline(E_cont.pH1, TOP_Y[0], jTopCont.pH1, COL.ref, 1.1, [4,3]), vline(E_pulsed.pH1, TOP_Y[0], TOP_Y[1], COL.gray, 1, [1,2]), zero()]);
mkChart('cc', BOX.c, TOP_Y, false, false, [
  line(cont_pH3, COL.cont, 1.6), line(chop_pH3, COL.chop, 1.3), line(dark_pH3, COL.dark, 1.3),
  vline(E_cont.pH3, TOP_Y[0], jTopCont.pH3, COL.ref, 1.1, [4,3]), zero()]);

// bottom row
const hatchE = hatchPattern(8, 12), hatchF = hatchPattern(6, 16);
mkChart('cd', BOX.d, BOT_Y, true, true, [
  line(green_pH0, COL.green, 4),
  vline(E_cont.pH0, BOT_Y[0], BOT_Y[1], COL.ref, 2.4, [7,5]), vline(E_pulsed.pH0, BOT_Y[0], BOT_Y[1], COL.gray, 1, [1,2]),
  line(band_pH0, COL.band, 6, [], bandStyle),
  circles(band2_pH0, COL.circ), circles(cloud_pH0, COL.circ),
  line(tri_pH0, '#333', 1), zero()]);
mkChart('ce', BOX.e, BOT_Y, true, false, [
  line(green_pH1, COL.green, 4),
  vline(E_cont.pH1, BOT_Y[0], BOT_Y[1], COL.ref, 1.1, [4,3]), vline(E_pulsed.pH1, BOT_Y[0], BOT_Y[1], COL.gray, 1, [1,2]),
  line(band_pH1, COL.band, 6, [], bandStyle),
  circles(band2_pH1, COL.circ), circles(cloud_pH1, COL.circ),
  line(tri_pH1, '#333', 1), line(hatchDiag_pH1, '#444', 1), line(hatchSide_pH1, '#444', 1),
  line(hatchTop_pH1, 'rgba(0,0,0,0)', 0, [], {fill:'+1', backgroundColor:hatchE}), line(hatchBot_pH1, '#666', 0.8),
  zero()]);
mkChart('cf', BOX.f, BOT_Y, true, false, [
  line(greenEnd_pH3, COL.greenEnd, 5, [], {clip:false}),
  line(green_pH3, COL.green, 4, [], {clip:false}),
  vline(E_cont.pH3, BOT_Y[0], BOT_Y[1], COL.ref, 1.1, [4,3]),
  line(band_pH3, COL.band, 6, [], bandStyle),
  circles(band2_pH3, COL.circ), circles(cloud_pH3, COL.circ),
  line(tri_pH3, '#333', 1), line(hatchDiag_pH3, '#444', 1), line(hatchSide_pH3, '#444', 1),
  line(hatchTop_pH3, 'rgba(0,0,0,0)', 0, [], {fill:'+1', backgroundColor:hatchF}), line(hatchBot_pH3, '#666', 0.8),
  zero()]);
</script>
</body></html>
